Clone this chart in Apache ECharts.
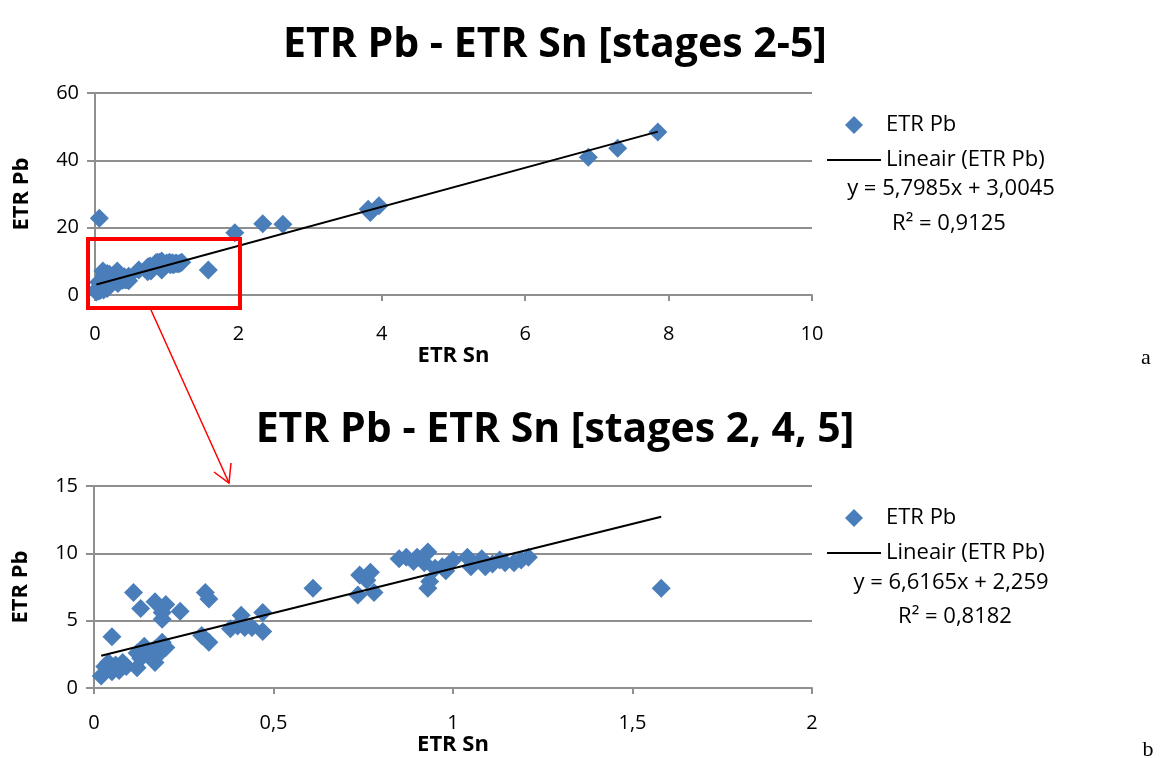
<!DOCTYPE html>
<html>
<head>
<meta charset="utf-8">
<script src="https://cdn.jsdelivr.net/npm/echarts@6/dist/echarts.min.js"></script>
<style>
html,body{margin:0;padding:0;background:#fff;}
#c{width:1161px;height:758px;}
</style>
</head>
<body>
<div id="c"></div>
<script>
// Stages 2, 4, 5 (bottom chart) — ETR Sn (x) and ETR Pb (y)
const stage245X = [0.02,0.03,0.04,0.05,0.06,0.07,0.08,0.09,0.05,0.11,0.13,0.12,0.12,0.13,0.14,0.15,0.16,0.17,0.17,0.18,0.19,0.20,0.17,0.19,0.20,0.19,0.24,0.31,0.32,0.30,0.32,0.38,0.40,0.41,0.42,0.44,0.47,0.47,0.61,0.735,0.74,0.76,0.77,0.78,0.85,0.87,0.89,0.90,0.92,0.93,0.93,0.935,0.95,0.97,0.98,1.00,1.04,1.05,1.08,1.09,1.11,1.13,1.145,1.17,1.19,1.21,1.58];
const stage245Y = [0.9,1.6,1.9,1.2,1.7,1.3,1.9,1.6,3.8,7.1,5.9,1.5,2.6,2.2,3.1,2.7,2.3,1.9,2.9,2.5,3.4,3.0,6.4,5.6,6.2,5.1,5.7,7.1,6.6,3.9,3.4,4.4,4.6,5.4,4.5,4.5,5.6,4.2,7.4,6.9,8.4,8.0,8.6,7.1,9.6,9.7,9.4,9.7,9.3,10.1,7.4,7.9,8.9,9.0,8.7,9.5,9.7,9.0,9.6,9.0,9.2,9.5,9.3,9.3,9.5,9.7,7.4];
// Extra points only in the stages 2-5 chart (stage 3)
const stage3X = [0.06,1.95,2.34,2.62,3.81,3.84,3.96,6.88,7.29,7.85];
const stage3Y = [22.8,18.5,21.2,21.0,25.5,24.5,26.5,40.9,43.6,48.4];

// Linear trendline coefficients (from the chart's equations)
const fitTop = {a: 5.7985, b: 3.0045};
const fitBottom = {a: 6.6165, b: 2.259};

// Axis ticks
const topXTicks = [0,2,4,6,8,10];
const topYTicks = [0,20,40,60];
const botXTicks = [0,0.5,1,1.5,2];
const botYTicks = [0,5,10,15];

const titles = ['ETR Pb - ETR Sn [stages 2-5]', 'ETR Pb - ETR Sn [stages 2, 4, 5]'];
const eqTop = ['y = 5,7985x + 3,0045', 'R² = 0,9125'];
const eqBottom = ['y = 6,6165x + 2,259', 'R² = 0,8182'];

const topX = stage245X.concat(stage3X);
const topY = stage245Y.concat(stage3Y);
const zip = (xs, ys) => xs.map((x, i) => [x, ys[i]]);
function trend(xs, f) {
  const lo = Math.min(...xs), hi = Math.max(...xs);
  return [[lo, f.a * lo + f.b], [hi, f.a * hi + f.b]];
}

const FONT = '"Open Sans", "Noto Sans", sans-serif';
const GRID = '#8f8f8f';
const BLUE = '#4a7ebb';
const commaFmt = v => String(v).replace('.', ',');

function xAxis(idx, ticks, margin, gap) {
  return {
    type: 'value', gridIndex: idx,
    min: ticks[0], max: ticks[ticks.length - 1], interval: ticks[1] - ticks[0],
    name: 'ETR Sn', nameLocation: 'middle', nameGap: gap,
    nameTextStyle: {fontFamily: FONT, fontWeight: 'bold', fontSize: 22, color: '#000'},
    axisLine: {show: true, onZero: false, lineStyle: {color: GRID, width: 2}},
    axisTick: {show: true, length: 6, lineStyle: {color: GRID, width: 2}},
    splitLine: {show: false},
    axisLabel: {fontFamily: FONT, fontSize: 20, color: '#000', margin: margin, formatter: commaFmt}
  };
}
function yAxis(idx, ticks) {
  return {
    type: 'value', gridIndex: idx,
    min: ticks[0], max: ticks[ticks.length - 1], interval: ticks[1] - ticks[0],
    name: 'ETR Pb', nameLocation: 'middle', nameGap: 62, nameRotate: 90,
    nameTextStyle: {fontFamily: FONT, fontWeight: 'bold', fontSize: 22, color: '#000'},
    axisLine: {show: true, lineStyle: {color: GRID, width: 2}},
    axisTick: {show: true, length: 8, lineStyle: {color: GRID, width: 2}},
    splitLine: {show: true, lineStyle: {color: GRID, width: 2}},
    axisLabel: {fontFamily: FONT, fontSize: 20, color: '#000', margin: 16}
  };
}
const DIAMOND = 'path://M10,0 L20,10 L10,20 L0,10 Z';
const BAR = 'path://M0,0 L54,0 L54,2 L0,2 Z';
function legend(top) {
  return {
    orient: 'vertical', left: 822, top: top,
    itemWidth: 54, itemHeight: 18, itemGap: 11,
    symbolKeepAspect: true,
    data: [{name: 'ETR Pb', icon: DIAMOND}, {name: 'Lineair (ETR Pb)', icon: BAR}],
    textStyle: {fontFamily: FONT, fontSize: 22, color: '#000', lineHeight: 24},
    selectedMode: false
  };
}
function text(x, y, str, opts) {
  return {
    type: 'text', x: x, y: y,
    style: Object.assign({text: str, fill: '#000', font: '22px ' + FONT, textAlign: 'center', textVerticalAlign: 'middle'}, opts || {})
  };
}

const chart = echarts.init(document.getElementById('c'), null, {renderer: 'canvas'});
chart.setOption({
  backgroundColor: '#fff',
  animation: false,
  grid: [
    {left: 95, top: 93, width: 717, height: 202},
    {left: 94, top: 486, width: 718, height: 202}
  ],
  xAxis: [xAxis(0, topXTicks, 29, 15), xAxis(1, botXTicks, 25, 41)],
  yAxis: [yAxis(0, topYTicks), yAxis(1, botYTicks)],
  legend: [legend(108), legend(501)],
  series: [
    {name: 'ETR Pb', type: 'scatter', xAxisIndex: 0, yAxisIndex: 0, symbol: 'diamond', symbolSize: 19,
     itemStyle: {color: BLUE, opacity: 1}, data: zip(topX, topY), z: 3},
    {name: 'Lineair (ETR Pb)', type: 'line', xAxisIndex: 0, yAxisIndex: 0, symbol: 'none', showSymbol: false,
     lineStyle: {color: '#000', width: 2}, itemStyle: {color: '#000'}, data: trend(topX, fitTop), z: 4},
    {name: 'ETR Pb', type: 'scatter', xAxisIndex: 1, yAxisIndex: 1, symbol: 'diamond', symbolSize: 19,
     itemStyle: {color: BLUE, opacity: 1}, data: zip(stage245X, stage245Y), z: 3},
    {name: 'Lineair (ETR Pb)', type: 'line', xAxisIndex: 1, yAxisIndex: 1, symbol: 'none', showSymbol: false,
     lineStyle: {color: '#000', width: 2}, itemStyle: {color: '#000'}, data: trend(stage245X, fitBottom), z: 4}
  ],
  graphic: [
    text(555, 45, titles[0], {font: 'bold 41px ' + FONT}),
    text(555, 430, titles[1], {font: 'bold 41px ' + FONT}),
    text(951, 189, eqTop[0]),
    text(949, 224, eqTop[1]),
    text(951, 583, eqBottom[0]),
    text(955, 617, eqBottom[1]),
    text(1146, 358, 'a', {font: '22px "Liberation Serif", serif'}),
    text(1148, 750, 'b', {font: '22px "Liberation Serif", serif'}),
    {type: 'rect', shape: {x: 88, y: 239, width: 152, height: 69},
     style: {fill: 'none', stroke: '#ff0000', lineWidth: 4}, z: 100},
    {type: 'line', shape: {x1: 151, y1: 310, x2: 229, y2: 483},
     style: {stroke: '#ff0000', lineWidth: 1.5}, z: 100},
    {type: 'polyline', shape: {points: [[214, 472], [229, 483], [231, 463]]},
     style: {stroke: '#ff0000', lineWidth: 1.5, fill: 'none'}, z: 100}
  ]
});
</script>
</body>
</html>
